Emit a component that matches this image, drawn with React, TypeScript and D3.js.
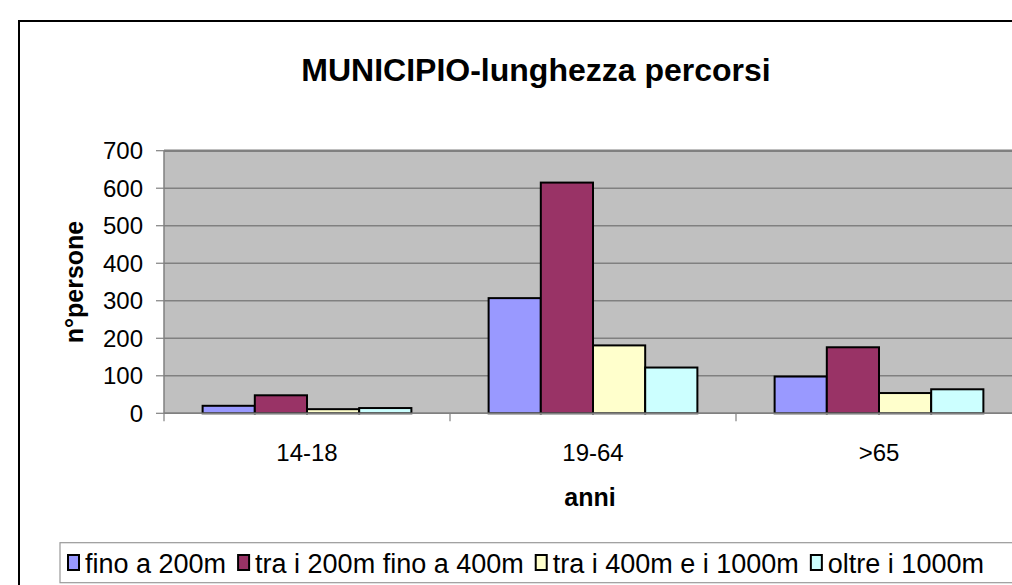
import React from 'react';
import * as d3 from 'd3';

const categories = ['14-18', '19-64', '>65'];
const seriesNames = ['fino a 200m', 'tra i 200m fino a 400m', 'tra i 400m e i 1000m', 'oltre i 1000m'];
const fino200 = [20, 307, 98];
const tra200e400 = [48, 615, 176];
const tra400e1000 = [11, 181, 54];
const oltre1000 = [14, 122, 64];
const seriesValues = [fino200, tra200e400, tra400e1000, oltre1000];
const yTickValues = [0, 100, 200, 300, 400, 500, 600, 700];
const colors = ['#9999ff', '#993366', '#ffffcc', '#ccffff'];

const W = 1012;
const H = 585;
const FONT = "'Liberation Sans', Arial, Helvetica, sans-serif";

function measure(text: string, font: string): number {
  const c = document.createElement('canvas');
  const ctx = c.getContext('2d')!;
  ctx.font = font;
  return ctx.measureText(text).width;
}

export default function App() {
  const plotLeft = 164;
  const plotTop = 150.7;
  const plotBottom = 413.3;
  const plotRight = 1022;

  const x = d3.scaleBand<string>().domain(categories).range([plotLeft, plotRight]).paddingInner(0).paddingOuter(0);
  const xs = d3.scaleBand<string>().domain(seriesNames).range([0, x.bandwidth()]).paddingInner(0).paddingOuter(0.74);
  const y = d3.scaleLinear().domain([0, 700]).range([plotBottom, plotTop]);

  // legend layout
  const legendFontSize = 27;
  const legendFont = `${legendFontSize}px ${FONT}`;
  let cursor = 68;
  const legendItems = seriesNames.map((name, i) => {
    const sx = cursor;
    const tx = sx + 11 + 6;
    const tw = measure(name, legendFont);
    cursor = tx + tw + 12;
    return { name, sx, tx, color: colors[i] };
  });

  return (
    <svg width={W} height={H} style={{ position: 'absolute', left: 0, top: 0, background: '#fff' }} fontFamily={FONT}>
      <rect x={0} y={0} width={W} height={H} fill="#fff" />
      {/* outer chart frame */}
      <rect x={19} y={21} width={1100} height={700} fill="none" stroke="#000" strokeWidth={2} />

      {/* title */}
      <text x={536} y={81} textAnchor="middle" fontSize={32} fontWeight="bold" fill="#000">
        MUNICIPIO-lunghezza percorsi
      </text>

      {/* plot area */}
      <rect x={plotLeft} y={plotTop} width={plotRight - plotLeft} height={plotBottom - plotTop} fill="#c0c0c0" />
      {yTickValues.map((t) => (
        <line key={'g' + t} x1={plotLeft} x2={plotRight} y1={y(t)} y2={y(t)} stroke="#808080" strokeWidth={t === 700 ? 2.5 : 1.5} />
      ))}
      {/* left axis */}
      <line x1={plotLeft} x2={plotLeft} y1={plotTop} y2={plotBottom} stroke="#808080" strokeWidth={1.5} />
      {yTickValues.map((t) => (
        <g key={'t' + t}>
          <line x1={plotLeft - 8} x2={plotLeft} y1={y(t)} y2={y(t)} stroke="#808080" strokeWidth={1.2} />
          <text x={143} y={y(t)} dy="0.36em" textAnchor="end" fontSize={24} fill="#000">{t}</text>
        </g>
      ))}

      {/* bars */}
      {categories.map((c, ci) => (
        <g key={c}>
          {seriesNames.map((s, si) => {
            const v = seriesValues[si][ci];
            const bx = (x(c) as number) + (xs(s) as number);
            return (
              <rect key={s} x={bx} y={y(v)} width={xs.bandwidth()} height={y(0) - y(v)}
                fill={colors[si]} stroke="#000" strokeWidth={2} />
            );
          })}
        </g>
      ))}

      {/* bottom axis */}
      <line x1={plotLeft} x2={plotRight} y1={plotBottom} y2={plotBottom} stroke="#808080" strokeWidth={1.5} />
      {categories.map((c, ci) => (
        <g key={'x' + c}>
          {ci > 0 && (
            <line x1={x(c)} x2={x(c)} y1={plotBottom} y2={plotBottom + 8} stroke="#808080" strokeWidth={1.2} />
          )}
          <text x={(x(c) as number) + x.bandwidth() / 2} y={452} dy="0.36em" textAnchor="middle" fontSize={24} fill="#000">{c}</text>
        </g>
      ))}
      <line x1={plotLeft} x2={plotLeft} y1={plotBottom} y2={plotBottom + 8} stroke="#808080" strokeWidth={1.2} />

      {/* axis titles */}
      <text x={590} y={497} dy="0.36em" textAnchor="middle" fontSize={25} fontWeight="bold" fill="#000">anni</text>
      <text transform={`translate(83,282) rotate(-90)`} textAnchor="middle" fontSize={25} fontWeight="bold" fill="#000">n°persone</text>

      {/* legend */}
      <rect x={60} y={542.7} width={1000} height={40} fill="#fff" stroke="#999" strokeWidth={1.2} />
      {legendItems.map((it) => (
        <g key={it.name}>
          <rect x={it.sx} y={555} width={11} height={15} fill={it.color} stroke="#000" strokeWidth={2} />
          <text x={it.tx} y={563} dy="0.36em" fontSize={legendFontSize} fill="#000">{it.name}</text>
        </g>
      ))}
    </svg>
  );
}
